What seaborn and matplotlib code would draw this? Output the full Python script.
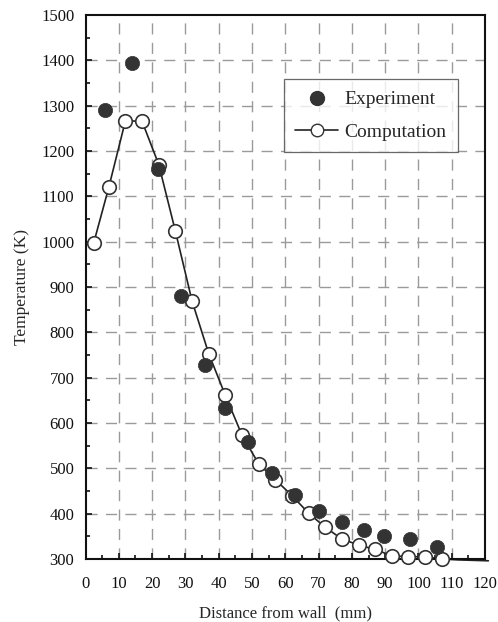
import numpy as np
import pandas as pd
import matplotlib
matplotlib.use("Agg")
import matplotlib.pyplot as plt
import seaborn as sns
from matplotlib.lines import Line2D
from matplotlib.ticker import MultipleLocator

# ---- data ----
exp_x = [6, 14, 21.7, 28.8, 36, 42, 48.7, 56, 62.8, 70, 77, 83.7, 89.5, 97.6, 105.7]
exp_y = [1290, 1395, 1160, 881, 728, 634, 558, 490, 441, 406, 381, 364, 351, 344, 326]

comp_x = [2.5, 7, 12, 17, 22, 27, 32, 37, 42, 47, 52, 57, 62, 67, 72, 77, 82, 87, 92, 97, 102, 107]
comp_y = [998, 1120, 1267, 1265, 1170, 1023, 869, 753, 661, 573, 510, 475, 440, 401, 370, 344, 331, 321, 307, 305, 305, 300]

tail_x = [112, 121]
tail_y = [298, 296]

x_ticks = list(range(0, 121, 10))
y_ticks = list(range(300, 1501, 100))

sns.set_theme(style="white")
plt.rcParams['font.family'] = ['Liberation Serif', 'DejaVu Serif']

fig = plt.figure(figsize=(4.98, 6.22), dpi=100)
ax = fig.add_axes([0.1717, 0.1013, 0.974 - 0.1717, 0.976 - 0.1013])

grid_kw = dict(color="#9a9a9a", lw=1.0, dashes=(8, 6), zorder=0)
for gx in range(10, 111, 10):
    ax.axvline(gx, **grid_kw)
for gy in range(400, 1401, 100):
    ax.axhline(gy, **grid_kw)

line_df = pd.DataFrame({"x": comp_x + tail_x, "y": comp_y + tail_y})
sns.lineplot(data=line_df, x="x", y="y", ax=ax, color="#222222", lw=1.2,
             sort=False, estimator=None, zorder=2, clip_on=False)

comp_df = pd.DataFrame({"x": comp_x, "y": comp_y})
sns.scatterplot(data=comp_df, x="x", y="y", ax=ax, marker="o", s=95,
                facecolor="white", edgecolor="#333333", linewidth=1.2, zorder=3, clip_on=False)

exp_df = pd.DataFrame({"x": exp_x, "y": exp_y})
sns.scatterplot(data=exp_df, x="x", y="y", ax=ax, marker="o", s=105,
                color="#333333", edgecolor="#333333", linewidth=0.5, zorder=4)

ax.set_xlim(0, 120)
ax.set_ylim(300, 1500)
ax.set_xticks(x_ticks)
ax.set_yticks(y_ticks)
ax.xaxis.set_minor_locator(MultipleLocator(5))
ax.yaxis.set_minor_locator(MultipleLocator(50))
ax.tick_params(which="both", direction="in", colors="#111111", labelsize=12,
               bottom=True, left=True, top=False, right=False)
ax.tick_params(which="major", length=4, width=1.2)
ax.tick_params(which="minor", length=3, width=1.2)
ax.tick_params(axis="x", pad=12)
ax.tick_params(axis="y", pad=8)
for s in ax.spines.values():
    s.set_color("#111111")
    s.set_linewidth(1.5)

ax.set_xlabel("Distance from wall  (mm)", fontsize=12, labelpad=10)
ax.set_ylabel("Temperature (K)", fontsize=12.5, labelpad=8)

handles = [
    Line2D([], [], marker="o", ls="none", color="#333333", markersize=10),
    Line2D([], [], marker="o", ls="-", color="#222222", lw=1.2,
           markerfacecolor="white", markeredgecolor="#333333", markersize=9),
]
leg = ax.legend(handles, ["Experiment", "Computation"], loc="upper left",
                bbox_to_anchor=(0.472, 0.9), fontsize=14, frameon=True,
                fancybox=False, edgecolor="#444444", handlelength=2.2,
                borderpad=0.6, labelspacing=0.75, handletextpad=0.3)
leg.get_frame().set_linewidth(0.9)

fig.savefig("out.png", dpi=100)
